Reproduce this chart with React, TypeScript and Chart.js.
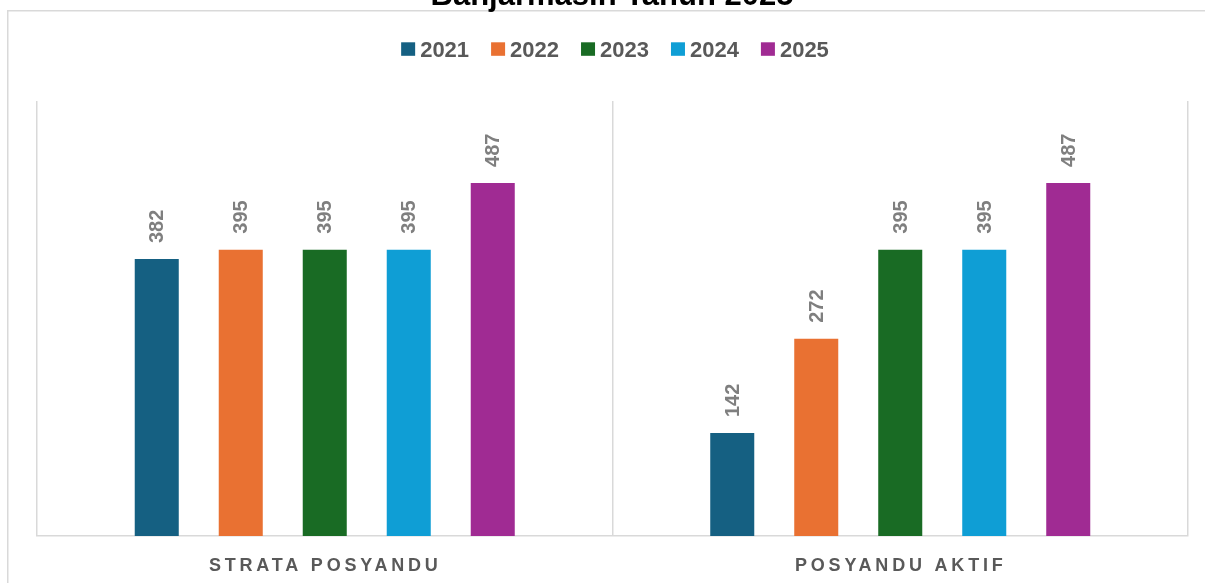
import { useEffect, useRef } from 'react';
import { Chart, registerables } from 'chart.js';

Chart.register(...registerables);

const titleText = 'Banjarmasin Tahun 2025';
const categories = ['STRATA POSYANDU', 'POSYANDU AKTIF'];
const seriesLabels = ['2021', '2022', '2023', '2024', '2025'];
const values2021 = [382, 142];
const values2022 = [395, 272];
const values2023 = [395, 395];
const values2024 = [395, 395];
const values2025 = [487, 487];
const seriesColors = ['#156082', '#E97132', '#196B24', '#0F9ED5', '#A02B93'];
const yMax = 600;

const FONT = "'Liberation Sans', Arial, sans-serif";

const decorPlugin = {
  id: 'decor',
  beforeDraw(chart: any) {
    const ctx = chart.ctx;
    ctx.save();
    ctx.fillStyle = '#ffffff';
    ctx.fillRect(0, 0, chart.width, chart.height);
    // outer chart border
    ctx.strokeStyle = '#d9d9d9';
    ctx.lineWidth = 1.5;
    ctx.beginPath();
    ctx.moveTo(7.75, chart.height + 5);
    ctx.lineTo(7.75, 10.75);
    ctx.lineTo(chart.width + 5, 10.75);
    ctx.stroke();
    // title (clipped at top)
    ctx.fillStyle = '#000000';
    ctx.font = `bold 31px ${FONT}`;
    ctx.textAlign = 'center';
    ctx.textBaseline = 'alphabetic';
    ctx.fillText(titleText, 612, 5);
    ctx.restore();
  },
  afterDraw(chart: any) {
    const ctx = chart.ctx;
    const area = chart.chartArea;
    // legend
    ctx.save();
    ctx.font = `bold 22px ${FONT}`;
    ctx.textBaseline = 'alphabetic';
    ctx.textAlign = 'left';
    const box = 14;
    const gap = 5;
    const pad = 22;
    const items = chart.data.datasets.map((ds: any) => ({
      label: ds.label,
      color: ds.backgroundColor,
      w: ctx.measureText(ds.label).width,
    }));
    let total = 0;
    items.forEach((it: any, i: number) => {
      total += box + gap + it.w + (i < items.length - 1 ? pad : 0);
    });
    let x = (area.left + area.right) / 2 + 2.5 - total / 2;
    items.forEach((it: any) => {
      ctx.fillStyle = it.color;
      ctx.fillRect(x, 42.3, box, 13.5);
      ctx.fillStyle = '#595959';
      ctx.fillText(it.label, x + box + gap, 57);
      x += box + gap + it.w + pad;
    });
    // category labels
    const xScale = chart.scales.x;
    ctx.font = `bold 18px ${FONT}`;
    ctx.textAlign = 'center';
    (ctx as any).letterSpacing = '3.8px';
    ctx.fillStyle = '#595959';
    chart.data.labels.forEach((lab: string, i: number) => {
      ctx.fillText(lab, xScale.getPixelForValue(i) + 0.5, 571);
    });
    (ctx as any).letterSpacing = '0px';
    ctx.restore();
  },
  afterDatasetsDraw(chart: any) {
    const ctx = chart.ctx;
    ctx.save();
    ctx.font = `bold 20px ${FONT}`;
    ctx.fillStyle = '#7f7f7f';
    ctx.textAlign = 'left';
    ctx.textBaseline = 'middle';
    chart.data.datasets.forEach((ds: any, di: number) => {
      const meta = chart.getDatasetMeta(di);
      meta.data.forEach((bar: any, i: number) => {
        ctx.save();
        ctx.translate(bar.x + 1, bar.y - 16);
        ctx.rotate(-Math.PI / 2);
        ctx.fillText(String(ds.data[i]), 0, 0);
        ctx.restore();
      });
    });
    ctx.restore();
  },
};

export default function App() {
  const ref = useRef<HTMLCanvasElement | null>(null);
  useEffect(() => {
    if (!ref.current) return;
    const allValues = [values2021, values2022, values2023, values2024, values2025];
    const chart = new Chart(ref.current, {
      type: 'bar',
      data: {
        labels: categories,
        datasets: seriesLabels.map((lab, i) => ({
          label: lab,
          data: allValues[i],
          backgroundColor: seriesColors[i],
          borderWidth: 0,
          categoryPercentage: 0.7298,
          barPercentage: 0.524,
        })),
      },
      options: {
        responsive: false,
        animation: false,
        devicePixelRatio: 1,
        layout: { padding: { top: 101, left: 37, right: 17, bottom: 47 } },
        plugins: {
          legend: { display: false },
          title: { display: false },
          tooltip: { enabled: false },
        },
        scales: {
          x: {
            type: 'category',
            offset: true,
            grid: {
              display: true,
              offset: true,
              color: '#d9d9d9',
              lineWidth: 1.5,
              drawTicks: false,
            },
            border: { display: true, color: '#d9d9d9', width: 1.5 },
            ticks: { display: false },
          },
          y: {
            display: false,
            min: 0,
            max: yMax,
          },
        },
      },
      plugins: [decorPlugin],
    });
    return () => chart.destroy();
  }, []);
  return (
    <div style={{ position: 'fixed', left: 0, top: 0, width: 1205, height: 583, background: '#fff' }}>
      <canvas ref={ref} width={1205} height={583} />
    </div>
  );
}
